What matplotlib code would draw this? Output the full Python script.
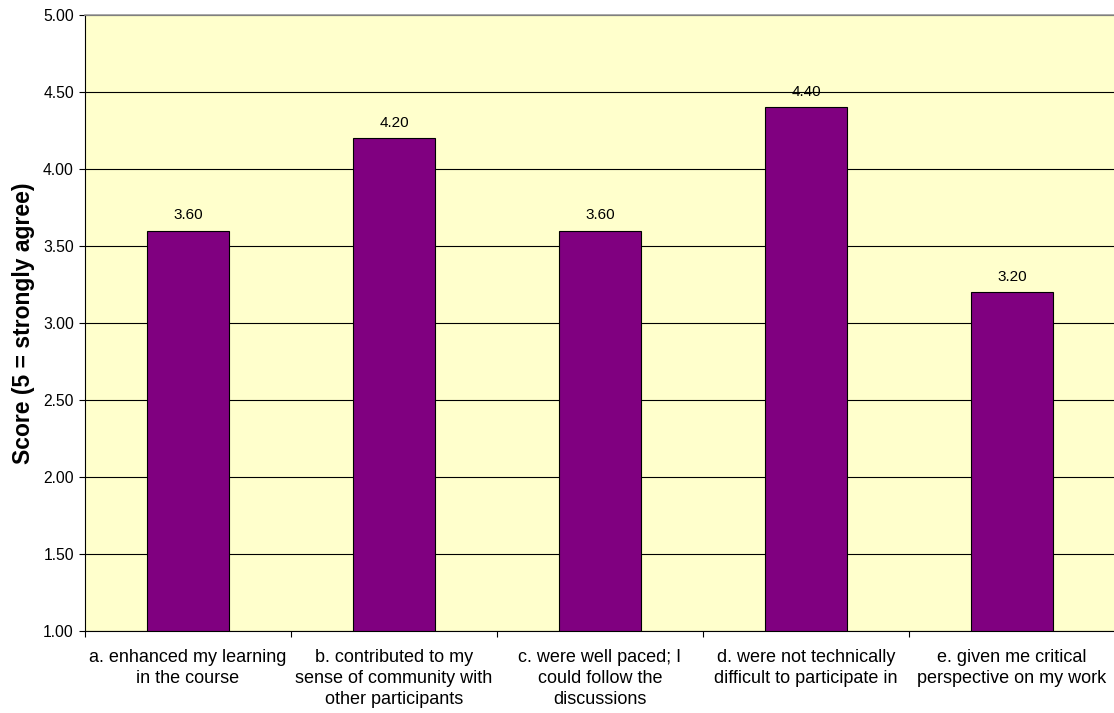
import matplotlib
matplotlib.use("Agg")
import matplotlib.pyplot as plt
import numpy as np

plt.rcParams['font.family'] = ['Liberation Sans', 'DejaVu Sans']

categories = ["a. enhanced my learning\nin the course",
              "b. contributed to my\nsense of community with\nother participants",
              "c. were well paced; I\ncould follow the\ndiscussions",
              "d. were not technically\ndifficult to participate in",
              "e. given me critical\nperspective on my work"]
scores = [3.60, 4.20, 3.60, 4.40, 3.20]
yticks = [1.0, 1.5, 2.0, 2.5, 3.0, 3.5, 4.0, 4.5, 5.0]

fig = plt.figure(figsize=(11.14, 7.13), dpi=100)
# plot area runs just past the right edge of the picture
ax = fig.add_axes([85/1114, 1 - 631/713, 1030/1114, 616/713])
ax.set_facecolor('#FFFFCC')

x = np.arange(len(categories))
ax.bar(x, [s - 1.0 for s in scores], bottom=1.0, width=0.4,
       color='#800080', edgecolor='black', linewidth=0.8, zorder=3)
for xi, s in zip(x, scores):
    ax.text(xi, s + 0.055, "%.2f" % s, ha='center', va='bottom', fontsize=11)

ax.set_xlim(-0.5, len(categories) - 0.5)
ax.set_ylim(1.0, 5.0)
ax.set_yticks(yticks)
ax.set_yticklabels(["%.2f" % t for t in yticks], fontsize=11.3)
ax.yaxis.grid(True, color='black', linewidth=0.8, zorder=1)

# category labels sit between the boundary ticks
ax.set_xticks(np.arange(-0.5, len(categories), 1.0))
ax.set_xticklabels([])
ax.set_xticks(x, minor=True)
ax.set_xticklabels(categories, minor=True, fontsize=13, linespacing=1.3)
ax.tick_params(axis='x', which='minor', length=0, pad=13)
ax.tick_params(axis='x', which='major', length=4.5, direction='out')
ax.tick_params(axis='y', length=4, direction='out', pad=4)

ax.set_ylabel("Score (5 = strongly agree)", fontsize=16.5, fontweight='bold', labelpad=6)

ax.spines['top'].set_color('#999999')
ax.spines['top'].set_linewidth(1.2)
ax.spines['right'].set_visible(False)
for side in ['left', 'bottom']:
    ax.spines[side].set_color('black')

fig.savefig("out.png", dpi=100)
